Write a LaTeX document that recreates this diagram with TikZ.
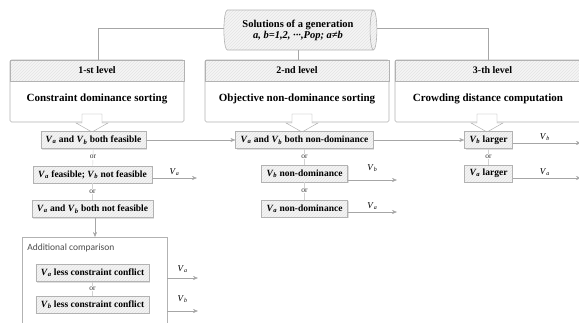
\documentclass[tikz,border=0pt]{standalone}
\usepackage{fontspec}
\setmainfont{Liberation Serif}
\newfontfamily\addfont{Carlito}
\usetikzlibrary{arrows.meta, shapes.geometric, patterns, shadows, positioning}
\newcommand{\Vs}[1]{\textit{V}\textsubscript{\textit{#1}}}

\begin{document}
\begin{tikzpicture}[
            x = 1pt, y = -1pt, % pixel grid, y grows downwards
            > = {Stealth[length = 5pt, width = 4pt]}, % arrow head style
            semithick % line style
        ]

        \tikzstyle{hatched}=[
            preaction = {fill = gray!8},
            pattern = north east lines,
            pattern color = gray!22
        ]
        \tikzstyle{rowbox}=[
            draw = gray!60,
            thin,
            drop shadow = {opacity = 0.25, shadow xshift = 1pt, shadow yshift = -1pt},
            hatched,
            font = \fontsize{9.5}{11}\selectfont\bfseries,
            minimum height = 17pt,
            inner xsep = 5pt,
            inner ysep = 1pt
        ]
        \tikzstyle{levelbox}=[draw = gray!60, fill = white, rounded corners = 1.5pt, inner sep = 0pt]
        \tikzstyle{header}=[draw = gray!60, hatched, inner sep = 0pt, minimum height = 21pt,
            font = \fontsize{10}{12}\selectfont\bfseries]
        \tikzstyle{title}=[font = \fontsize{11}{13}\selectfont\bfseries]
        \tikzstyle{ortext}=[font = \fontsize{7.5}{8}\selectfont, text = black!80, fill = white, inner sep = 0.5pt]
        \tikzstyle{link}=[gray!35, thin]
        \tikzstyle{outarrow}=[gray!70, thin, ->]
        \tikzstyle{outlabel}=[font = \fontsize{9}{10}\selectfont, text = black, above, inner sep = 2pt]
        \tikzstyle{blockarrow}=[draw = gray!70, fill = white, thin]

        \useasboundingbox (0,0) rectangle (579,322);
        \clip (0,0) rectangle (579,322);

        % top: the population
        \node[cylinder, draw = gray!60, hatched, aspect = 0.3, minimum width = 40pt,
            minimum height = 153pt, align = center, inner sep = 1pt] (pop) at (298,30)
            {\fontsize{10.5}{11.5}\selectfont\bfseries Solutions of a generation\\[-1pt]
             \fontsize{10.5}{11.5}\selectfont\bfseries\itshape a, b=1,2, ···,Pop; a≠b};

        % the three levels
        \node[levelbox, minimum width = 174pt, minimum height = 62pt] (lvl1) at (97,91) {};
        \node[levelbox, minimum width = 184pt, minimum height = 62pt] (lvl2) at (297,91) {};
        \node[levelbox, minimum width = 195pt, minimum height = 62pt] (lvl3) at (492.5,91) {};
        \node[header, minimum width = 174pt, anchor = north] (hd1) at (lvl1.north) {1-st level};
        \node[header, minimum width = 184pt, anchor = north] (hd2) at (lvl2.north) {2-nd level};
        \node[header, minimum width = 195pt, anchor = north] (hd3) at (lvl3.north) {3-th level};
        \node[title] at (97,99) {Constraint dominance sorting};
        \node[title] at (297,99) {Objective non-dominance sorting};
        \node[title] at (488,99) {Crowding distance computation};

        \coordinate (t1) at (98,28);
        \coordinate (t3) at (488,28);
        \draw[gray!70, thin] (pop.west |- t1) -- (t1) -- (t1 |- lvl1.north);
        \draw[gray!70, thin] (pop.east |- t3) -- (t3) -- (t3 |- lvl3.north);
        \draw[gray!70, thin] (pop.south) -- (pop.south |- lvl2.north);

        % hollow arrows below the levels
        \foreach \ax in {92, 302, 487} {
            \draw[blockarrow] (\ax,114) ++(-10,0) -- ++(20,0) -- ++(0,9) -- ++(6,0)
                -- ++(-16,9) -- ++(-16,-9) -- ++(6,0) -- cycle;
        }

        % 1-st level cases
        \node[rowbox] (c1r1) at (93.5,140) {\Vs{a} and \Vs{b} both feasible};
        \node[rowbox] (c1r2) at (92.5,174.5) {\Vs{a} feasible; \Vs{b} not feasible};
        \node[rowbox] (c1r3) at (92.5,209) {\Vs{a} and \Vs{b} both not feasible};
        \draw[link] (c1r1) -- node[ortext] {or} (c1r2);
        \draw[link] (c1r2) -- node[ortext] {or} (c1r3);

        % additional comparison
        \node[draw = gray!60, thin, minimum width = 145pt, minimum height = 100pt,
            anchor = north] (addc) at (94.5,237) {};
        \node[anchor = west, inner sep = 0pt, text = gray!60!black]
            at (27,248) {\addfont\fontsize{9.5}{11}\selectfont Additional comparison};
        \node[rowbox] (adr1) at (92.5,273) {\Vs{a} less constraint conflict};
        \node[rowbox] (adr2) at (92.5,304.5) {\Vs{b} less constraint conflict};
        \draw[link] (adr1) -- node[ortext] {or} (adr2);
        \coordinate (dn) at (95,0);
        \draw[outarrow] (c1r3.south -| dn) -- (addc.north -| dn);

        % 2-nd level cases
        \node[rowbox] (c2r1) at (304.5,140) {\Vs{a} and \Vs{b} both non-dominance};
        \node[rowbox] (c2r2) at (304.5,173.5) {\Vs{b} non-dominance};
        \node[rowbox] (c2r3) at (304.5,208.5) {\Vs{a} non-dominance};
        \draw[link] (c2r1) -- node[ortext] {or} (c2r2);
        \draw[link] (c2r2) -- node[ortext] {or} (c2r3);

        % 3-th level cases
        \node[rowbox] (c3r1) at (488.5,140) {\Vs{b} larger};
        \node[rowbox] (c3r2) at (488.5,173.5) {\Vs{a} larger};
        \draw[link] (c3r1) -- node[ortext] {or} (c3r2);

        % passing on to the next level
        \draw[outarrow] (c1r1) -- (c2r1);
        \draw[outarrow] (c2r1) -- (c3r1);

        % decided outputs
        \coordinate (o12) at (197,178);
        \coordinate (oa1) at (198,278);
        \coordinate (oa2) at (198,311);
        \coordinate (o22) at (397,180);
        \coordinate (o23) at (397,212);
        \coordinate (o31) at (581,143);
        \coordinate (o32) at (581,178);
        \draw[outarrow] (c1r2.east |- o12) -- node[outlabel] {\Vs{a}} (o12);
        \draw[outarrow] (addc.east |- oa1) -- node[outlabel, yshift = 3pt] {\Vs{a}} (oa1);
        \draw[outarrow] (addc.east |- oa2) -- node[outlabel, yshift = 6pt] {\Vs{b}} (oa2);
        \draw[outarrow] (c2r2.east |- o22) -- node[outlabel, yshift = 6pt] {\Vs{b}} (o22);
        \draw[outarrow] (c2r3.east |- o23) -- node[outlabel] {\Vs{a}} (o23);
        \draw[outarrow] (c3r1.east |- o31) -- node[outlabel, xshift = -2pt] {\Vs{b}} (o31);
        \draw[outarrow] (c3r2.east |- o32) -- node[outlabel, xshift = -2pt] {\Vs{a}} (o32);
    \end{tikzpicture}
\end{document}
